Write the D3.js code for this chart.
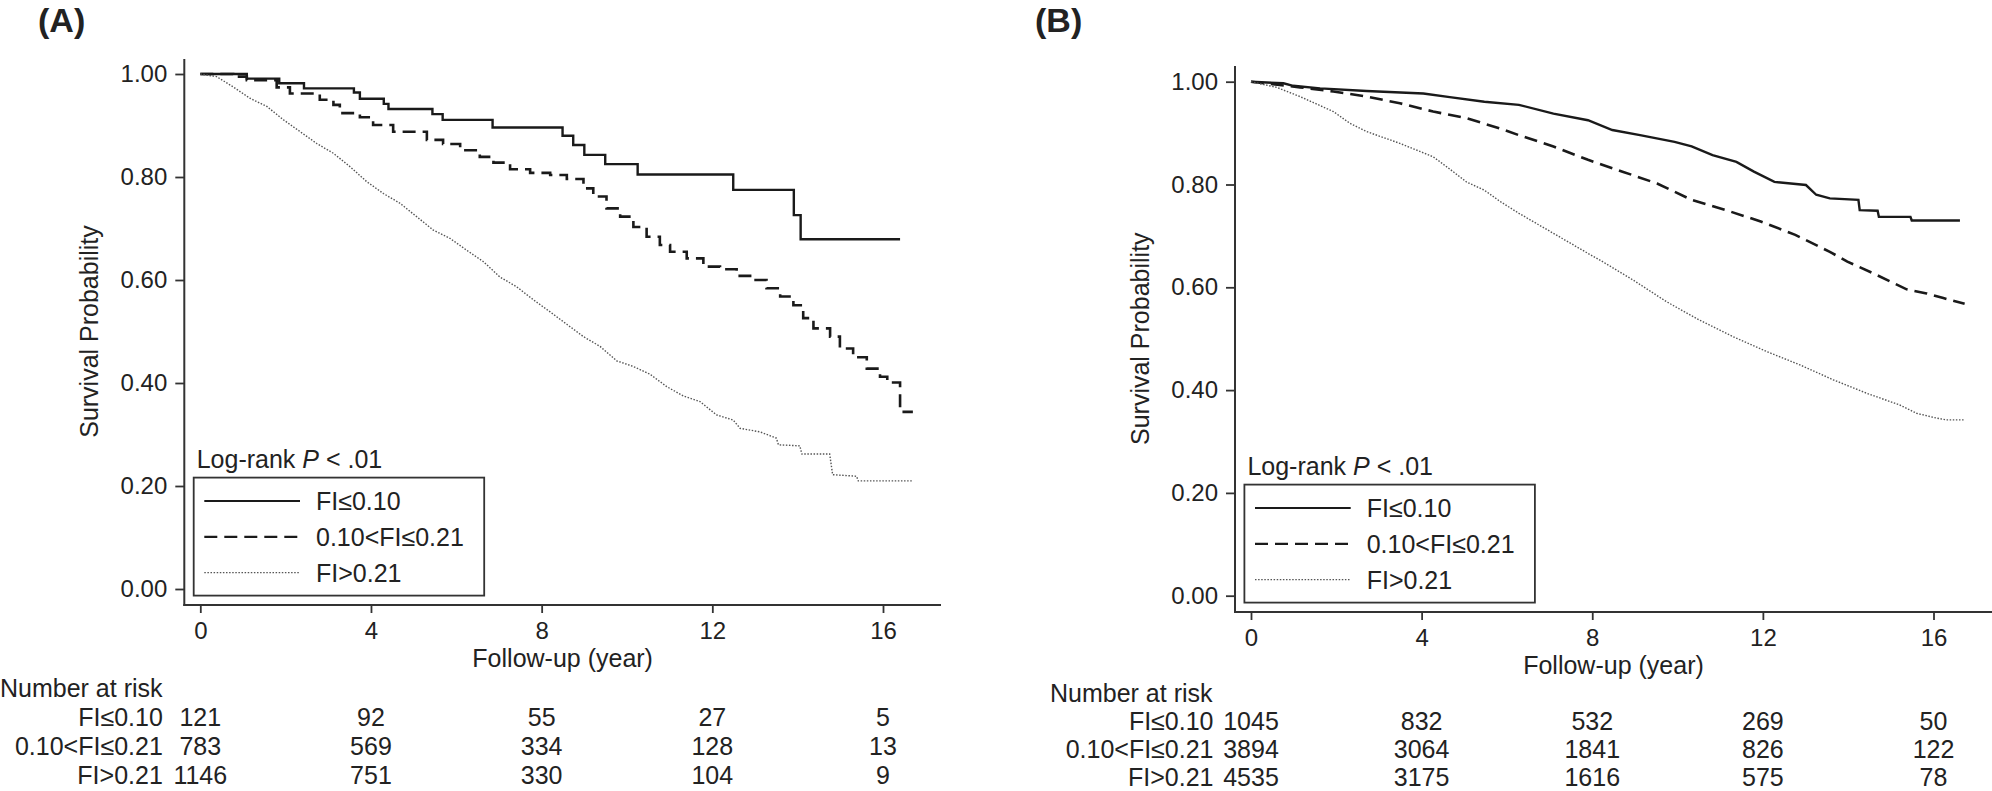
<!DOCTYPE html>
<html>
<head>
<meta charset="utf-8">
<script src="https://cdn.jsdelivr.net/npm/d3@7"></script>
<style>
  body { margin: 0; background: #fff; }
  svg text { font-family: "Liberation Sans", Arial, sans-serif; fill: #222; }
</style>
</head>
<body>
<svg id="chart" width="1992" height="791"></svg>
<script>
// ---- data ----
const timeTicks = [0, 4, 8, 12, 16];
const survTicks = [0, 0.2, 0.4, 0.6, 0.8, 1.0];
const groupLabels = ["FI\u22640.10", "0.10<FI\u22640.21", "FI>0.21"];

// panel A, Kaplan-Meier estimates [year, survival]
const curveA_low = [[0,1],[1.09,0.991],[1.85,0.982],[2.43,0.972],[3.60,0.964],[3.74,0.952],[4.30,0.942],[4.41,0.932],
  [5.44,0.922],[5.68,0.911],[6.85,0.896],[8.49,0.880],[8.74,0.862],[9.00,0.843],[9.49,0.825],[10.25,0.805],
  [12.49,0.775],[13.91,0.726],[14.07,0.679],[16.40,0.679]];
const curveA_mid = [[0,1],[0.77,0.995],[1.09,0.988],[1.79,0.974],[2.10,0.962],[2.80,0.950],[3.12,0.940],[3.27,0.924],
  [3.74,0.916],[4.05,0.901],[4.52,0.888],[5.31,0.872],[5.69,0.864],[6.09,0.852],[6.55,0.839],[6.87,0.828],[7.26,0.815],
  [7.73,0.808],[8.20,0.804],[8.59,0.796],[8.98,0.778],[9.21,0.762],[9.52,0.739],[9.84,0.723],[10.15,0.703],[10.46,0.684],
  [10.77,0.668],[11.01,0.655],[11.40,0.642],[11.79,0.626],[12.18,0.621],[12.57,0.608],[12.96,0.600],[13.27,0.584],
  [13.59,0.568],[13.90,0.551],[14.13,0.526],[14.37,0.506],[14.76,0.490],[14.99,0.467],[15.30,0.450],[15.62,0.428],
  [15.93,0.412],[16.10,0.401],[16.40,0.344],[16.70,0.344]];
const curveA_high = [[0,1],[0.38,0.995],[0.77,0.975],[1.16,0.953],[1.56,0.937],[1.95,0.911],[2.34,0.888],[2.73,0.865],
  [3.12,0.846],[3.51,0.820],[3.90,0.791],[4.29,0.768],[4.68,0.749],[5.07,0.723],[5.46,0.697],[5.85,0.681],[6.24,0.658],
  [6.63,0.636],[7.02,0.606],[7.41,0.587],[7.80,0.562],[8.20,0.538],[8.59,0.514],[8.98,0.490],[9.37,0.471],[9.76,0.443],
  [10.15,0.432],[10.54,0.417],[10.93,0.393],[11.32,0.375],[11.71,0.364],[12.10,0.338],[12.49,0.328],[12.65,0.312],
  [13.12,0.305],[13.50,0.293],[13.55,0.280],[14.05,0.278],[14.10,0.262],[14.75,0.262],[14.82,0.222],[15.38,0.219],
  [15.42,0.210],[16.71,0.210]];

// panel B
const curveB_low = [[0,1],[0.76,0.997],[0.99,0.992],[1.62,0.987],[2.71,0.982],[4.04,0.977],[4.66,0.970],[5.47,0.961],
  [6.28,0.955],[7.09,0.938],[7.90,0.925],[8.47,0.906],[9.12,0.896],[9.93,0.883],[10.33,0.874],[10.82,0.857],
  [11.38,0.844],[11.79,0.825],[12.27,0.805],[13.01,0.799],[13.25,0.780],[13.57,0.773],[14.24,0.770],[14.27,0.750],
  [14.69,0.749],[14.72,0.737],[15.46,0.737],[15.49,0.730],[16.62,0.730]];
const curveB_mid = [[0,1],[1.15,0.989],[1.93,0.981],[2.71,0.971],[3.49,0.958],[4.27,0.942],[5.05,0.929],[5.84,0.909],
  [6.28,0.896],[7.09,0.874],[7.90,0.848],[8.71,0.825],[9.52,0.802],[10.33,0.770],[11.14,0.750],[11.95,0.728],
  [12.76,0.702],[13.57,0.669],[13.98,0.650],[14.67,0.624],[15.37,0.596],[15.84,0.588],[16.23,0.579],[16.73,0.568]];
const curveB_high = [[0,1],[0.60,0.989],[1.15,0.971],[1.93,0.942],[2.32,0.919],[2.71,0.903],[3.49,0.880],[4.27,0.854],
  [4.66,0.830],[5.05,0.805],[5.47,0.789],[5.84,0.767],[6.28,0.744],[7.09,0.705],[7.90,0.666],[8.18,0.653],[8.96,0.614],
  [9.74,0.572],[10.52,0.536],[11.30,0.504],[12.09,0.475],[12.87,0.449],[13.65,0.420],[14.43,0.394],[15.21,0.371],
  [15.60,0.355],[15.99,0.347],[16.30,0.342],[16.73,0.342]];

// number at risk at 0, 4, 8, 12, 16 years
const riskA_low = [121, 92, 55, 27, 5];
const riskA_mid = [783, 569, 334, 128, 13];
const riskA_high = [1146, 751, 330, 104, 9];
const riskB_low = [1045, 832, 532, 269, 50];
const riskB_mid = [3894, 3064, 1841, 826, 122];
const riskB_high = [4535, 3175, 1616, 575, 78];

// line styles for the three groups
const groupStyles = [
  { stroke: "#1a1a1a", width: 2.4, dash: null, legendWidth: 2 },
  { stroke: "#1a1a1a", width: 2.6, dash: "13,7", legendWidth: 2.2 },
  { stroke: "#555", width: 1.4, dash: "1.5,1.6", legendWidth: 1.4 }
];

class KMPanel {
  constructor(svg, cfg) {
    this.svg = svg;
    this.cfg = cfg;
    this.g = svg.append("g");
    this.x = d3.scaleLinear().domain([0, 16]).range([cfg.x0, cfg.x16]);
    this.y = d3.scaleLinear().domain([0, 1]).range([cfg.y0, cfg.y1]);
  }

  drawAxes() {
    const c = this.cfg;
    // axis lines drawn by hand, they run past the tick range
    this.g.append("line")
      .attr("x1", c.axisX).attr("x2", c.axisX)
      .attr("y1", c.axisTop).attr("y2", c.axisBottom + 1)
      .attr("stroke", "#333").attr("stroke-width", 2);
    this.g.append("line")
      .attr("x1", c.axisX - 1).attr("x2", c.axisRight)
      .attr("y1", c.axisBottom).attr("y2", c.axisBottom)
      .attr("stroke", "#333").attr("stroke-width", 2);

    const yAxis = this.g.append("g")
      .attr("transform", `translate(${c.axisX},0)`)
      .call(d3.axisLeft(this.y).tickValues(survTicks).tickFormat(d3.format(".2f")).tickSize(9).tickPadding(8));
    const xAxis = this.g.append("g")
      .attr("transform", `translate(0,${c.axisBottom})`)
      .call(d3.axisBottom(this.x).tickValues(timeTicks).tickFormat(d3.format("d")).tickSize(8).tickPadding(9));
    [yAxis, xAxis].forEach(a => {
      a.select(".domain").remove();
      a.selectAll("line").attr("stroke", "#333").attr("stroke-width", 1.8);
      a.selectAll("text").style("font-size", "24px").attr("fill", "#222")
        .style("font-family", '"Liberation Sans", Arial, sans-serif');
    });

    this.g.append("text")
      .attr("transform", `translate(${c.axisX - 86},${(c.y0 + c.y1) / 2}) rotate(-90)`)
      .attr("text-anchor", "middle")
      .style("font-size", "25px")
      .text("Survival Probability");
    this.g.append("text")
      .attr("x", (c.axisX + c.axisRight) / 2)
      .attr("y", c.axisBottom + 61.5)
      .attr("text-anchor", "middle")
      .style("font-size", "25px")
      .text("Follow-up (year)");

    // panel letter
    this.g.append("text")
      .attr("x", c.titleX).attr("y", 32)
      .style("font-size", "34px").style("font-weight", "bold")
      .text(c.title);
  }

  drawCurves() {
    const c = this.cfg;
    c.curves.forEach((data, i) => {
      const st = groupStyles[i];
      const line = d3.line()
        .x(d => this.x(d[0]))
        .y(d => this.y(d[1]))
        .curve(c.curveTypes[i]);
      this.g.append("path")
        .datum(data)
        .attr("d", line)
        .attr("fill", "none")
        .attr("stroke", st.stroke)
        .attr("stroke-width", st.width)
        .attr("stroke-dasharray", st.dash);
    });
  }

  drawLegend() {
    const c = this.cfg;
    const bx = c.axisX + 9.4, bh = 118, by = c.axisBottom - 9.4 - bh, bw = 290.5;
    const lg = this.g.append("g");
    lg.append("text")
      .attr("x", bx + 3).attr("y", by - 9.4)
      .style("font-size", "25px")
      .call(t => {
        t.append("tspan").text("Log-rank ");
        t.append("tspan").style("font-style", "italic").text("P");
        t.append("tspan").text(" < .01");
      });
    lg.append("rect")
      .attr("x", bx).attr("y", by).attr("width", bw).attr("height", bh)
      .attr("fill", "none").attr("stroke", "#333").attr("stroke-width", 1.8);
    groupLabels.forEach((lab, i) => {
      const st = groupStyles[i];
      const ly = by + 23.4 + i * 35.8;
      lg.append("line")
        .attr("x1", bx + 10.6).attr("x2", bx + 106.3)
        .attr("y1", ly).attr("y2", ly)
        .attr("stroke", st.stroke)
        .attr("stroke-width", st.legendWidth)
        .attr("stroke-dasharray", st.dash);
      lg.append("text")
        .attr("x", bx + 122.3).attr("y", ly + 9)
        .style("font-size", "25px")
        .text(lab);
    });
  }

  drawRiskTable() {
    const c = this.cfg;
    const top = c.axisBottom + c.riskTop;
    this.g.append("text")
      .attr("x", Math.max(0, this.x(0) - 201)).attr("y", top)
      .style("font-size", "25px")
      .text("Number at risk");
    c.risk.forEach((row, i) => {
      const ry = top + c.rowGap * (i + 1);
      this.g.append("text")
        .attr("x", this.x(0) - 37.5).attr("y", ry)
        .attr("text-anchor", "end")
        .style("font-size", "25px")
        .text(groupLabels[i]);
      this.g.selectAll(null)
        .data(row)
        .enter()
        .append("text")
        .attr("x", (d, j) => this.x(timeTicks[j]))
        .attr("y", ry)
        .attr("text-anchor", "middle")
        .style("font-size", "25px")
        .text(d => d);
    });
  }

  plot() {
    this.drawAxes();
    this.drawCurves();
    this.drawLegend();
    this.drawRiskTable();
  }
}

const svg = d3.select("#chart");

new KMPanel(svg, {
  title: "(A)", titleX: 38,
  axisX: 184.3, axisTop: 59, axisBottom: 605, axisRight: 941,
  x0: 200.3, x16: 883, y0: 589, y1: 74,
  curves: [curveA_low, curveA_mid, curveA_high],
  curveTypes: [d3.curveStepAfter, d3.curveStepAfter, d3.curveLinear],
  risk: [riskA_low, riskA_mid, riskA_high],
  riskTop: 91.5, rowGap: 29
}).plot();

// panel B's table is pushed against the bottom edge, so it is packed a little tighter
new KMPanel(svg, {
  title: "(B)", titleX: 1035,
  axisX: 1235, axisTop: 66, axisBottom: 612, axisRight: 1992,
  x0: 1251, x16: 1933.5, y0: 595.7, y1: 81.7,
  curves: [curveB_low, curveB_mid, curveB_high],
  curveTypes: [d3.curveLinear, d3.curveLinear, d3.curveLinear],
  risk: [riskB_low, riskB_mid, riskB_high],
  riskTop: 90, rowGap: 28
}).plot();
</script>
</body>
</html>
